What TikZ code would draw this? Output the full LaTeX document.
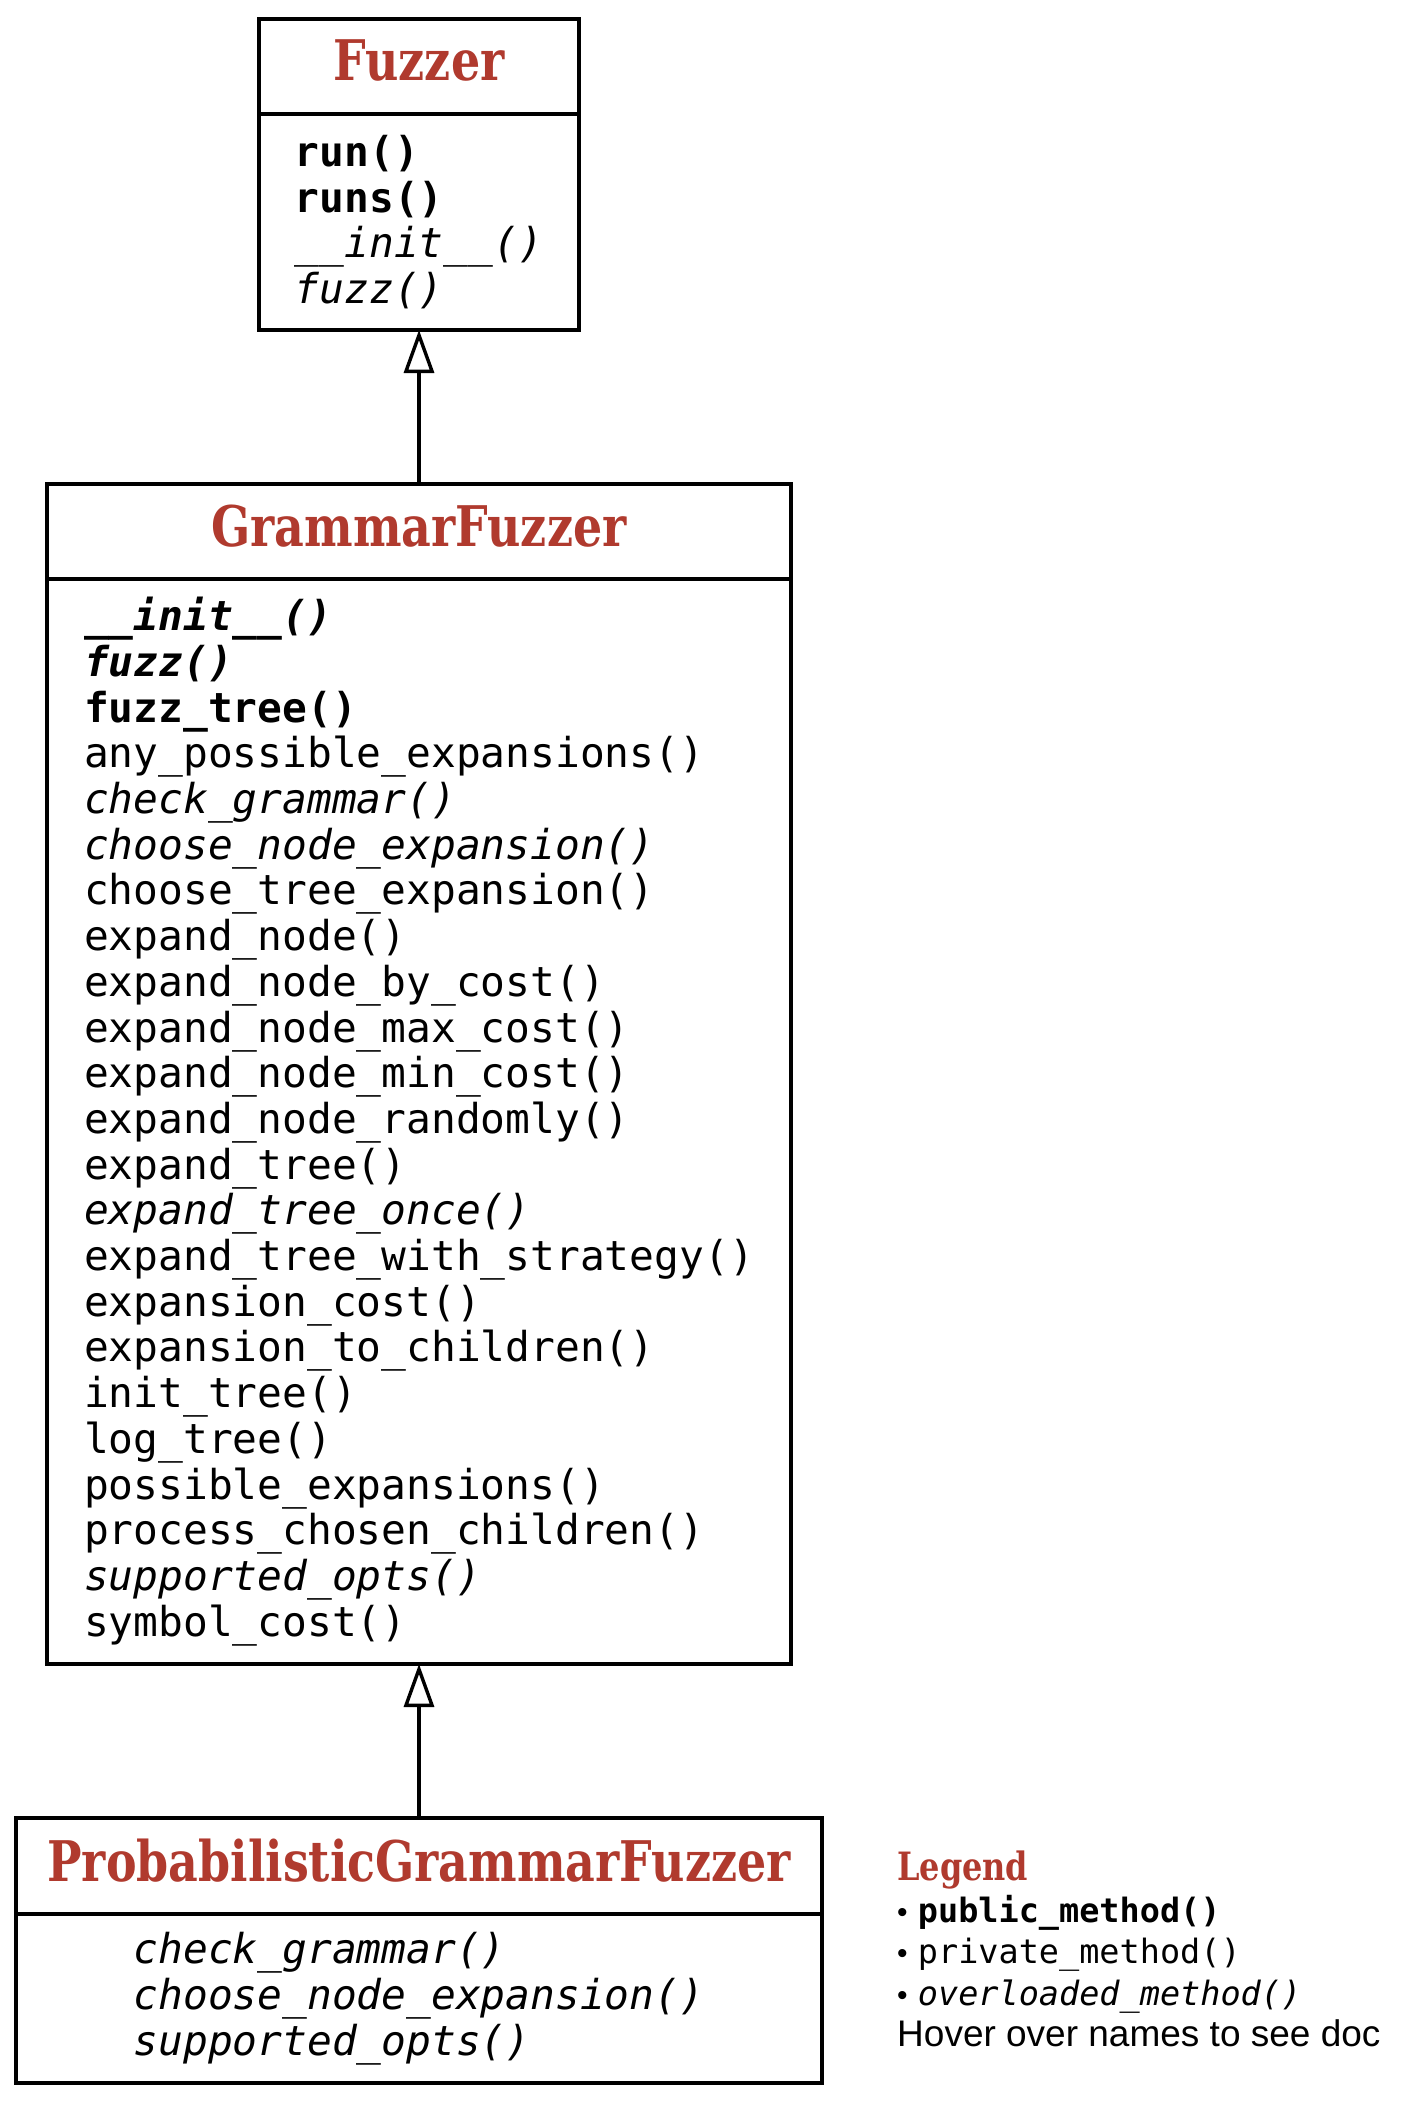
\documentclass[tikz,border=0pt]{standalone}
\usepackage{fontspec}
\setmainfont{Liberation Sans}
\setmonofont{DejaVu Sans Mono}
\newfontfamily\classfont{DejaVu Serif}[FakeStretch=0.82]
\usetikzlibrary{arrows.meta,positioning}
\definecolor{classred}{RGB}{176,58,46}

\tikzset{
  classname/.style={draw, line width=3.4pt, outer sep=0pt, minimum height=95pt, text depth=12pt,
    font=\classfont\bfseries\fontsize{56}{60}\selectfont, text=classred},
  methods/.style={draw, line width=3.4pt, outer sep=0pt, align=left,
    font=\ttfamily\fontsize{41.2}{45.7}\selectfont},
  inherits/.style={line width=3.4pt, -{Triangle[open,length=43pt,width=30pt]}},
  legendbox/.style={align=left, inner sep=0pt, font=\fontsize{37}{41.5}\selectfont},
}

\begin{document}
\begin{tikzpicture}[x=1pt,y=-1pt]
\path[use as bounding box, fill=white] (0,0) rectangle (1408,2108);

% Fuzzer
\node[classname, minimum width=320pt] (fuzzer) at (419,66.5) {Fuzzer};
\node[methods, minimum width=320pt, minimum height=216pt, below=0pt of fuzzer] (fuzzer methods)
  {\textbf{run()}\\ \textbf{runs()}\\ \textit{\_\_init\_\_()}\\ \textit{fuzz()}};

% GrammarFuzzer
\node[classname, minimum width=744pt] (grammar) at (419,531.5) {GrammarFuzzer};
\node[methods, minimum width=744pt, minimum height=1085pt, below=0pt of grammar] (grammar methods)
  {\textbf{\textit{\_\_init\_\_()}}\\
   \textbf{\textit{fuzz()}}\\
   \textbf{fuzz\_tree()}\\
   any\_possible\_expansions()\\
   \textit{check\_grammar()}\\
   \textit{choose\_node\_expansion()}\\
   choose\_tree\_expansion()\\
   expand\_node()\\
   expand\_node\_by\_cost()\\
   expand\_node\_max\_cost()\\
   expand\_node\_min\_cost()\\
   expand\_node\_randomly()\\
   expand\_tree()\\
   \textit{expand\_tree\_once()}\\
   expand\_tree\_with\_strategy()\\
   expansion\_cost()\\
   expansion\_to\_children()\\
   init\_tree()\\
   log\_tree()\\
   possible\_expansions()\\
   process\_chosen\_children()\\
   \textit{supported\_opts()}\\
   symbol\_cost()};

% ProbabilisticGrammarFuzzer
\node[classname, minimum width=806pt, minimum height=96pt] (probabilistic) at (419,1866) {ProbabilisticGrammarFuzzer};
\node[methods, minimum width=806pt, minimum height=169pt, below=0pt of probabilistic] (probabilistic methods)
  {\textit{check\_grammar()}\\ \textit{choose\_node\_expansion()}\\ \textit{supported\_opts()}};

% inheritance
\draw[inherits] (grammar.north) -- (fuzzer methods.south);
\draw[inherits] (probabilistic.north) -- (grammar methods.south);

% legend
\node[legendbox, anchor=north west] (legend) at (897,1851)
  {{\classfont\bfseries\fontsize{39}{41.5}\selectfont\color{classred}Legend}\\
   {\fontsize{30}{41.5}\selectfont•} {\ttfamily\bfseries\fontsize{33.5}{41.5}\selectfont public\_method()}\\
   {\fontsize{30}{41.5}\selectfont•} {\ttfamily\fontsize{33.5}{41.5}\selectfont private\_method()}\\
   {\fontsize{30}{41.5}\selectfont•} {\ttfamily\itshape\fontsize{33.5}{41.5}\selectfont overloaded\_method()}\\
   Hover over names to see doc};
\end{tikzpicture}
\end{document}
